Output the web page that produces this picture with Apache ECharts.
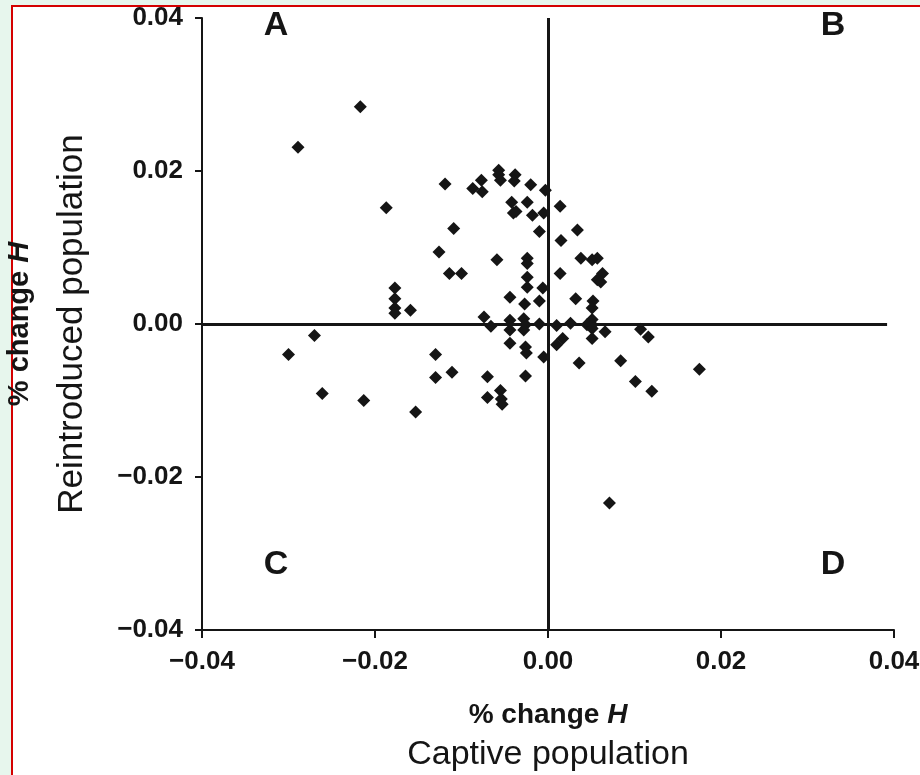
<!DOCTYPE html>
<html>
<head>
<meta charset="utf-8">
<title>% change H</title>
<script src="https://cdn.jsdelivr.net/npm/echarts@6/dist/echarts.min.js"></script>
<style>
  html, body { margin: 0; padding: 0; background: #e7f6ed; }
  #panel {
    position: absolute; left: 11px; top: 5px; width: 909px; height: 770px;
    background: #fff; border-left: 2px solid #d40000; border-top: 2px solid #d40000;
  }
  #chart { position: absolute; left: 0; top: 0; width: 920px; height: 775px; }
</style>
</head>
<body>
<div id="panel"></div>
<div id="chart"></div>
<script>
// % change H, captive (x) vs reintroduced (y)
var xValues = [
  -0.0289, -0.0217, -0.0187, -0.0119, -0.0087, -0.0077, -0.0076, -0.0057, -0.0057, -0.0055,
  -0.0038, -0.0039, -0.0020, -0.0003, -0.0042, -0.0024, -0.0040, -0.0037, -0.0018, -0.0005,
  0.0014, -0.0010, 0.0034, 0.0015, -0.0109, -0.0126, -0.0059, -0.0024, -0.0024, 0.0038,
  0.0051, 0.0057, -0.0114, -0.0100, 0.0014, 0.0063, 0.0057, 0.0061, -0.0024, -0.0024,
  -0.0006, -0.0177, -0.0177, -0.0177, -0.0177, -0.0159, -0.0044, -0.0027, -0.0010, 0.0032,
  0.0052, 0.0051, 0.0051, -0.0074, -0.0066, -0.0044, -0.0044, -0.0028, -0.0026, -0.0028,
  -0.0010, 0.0010, 0.0026, 0.0045, 0.0051, 0.0051, 0.0066, 0.0107, 0.0116, -0.0044,
  -0.0026, -0.0025, -0.0005, 0.0017, 0.0010, 0.0051, 0.0036, 0.0084, 0.0101, 0.0120,
  0.0175, 0.0071, -0.0270, -0.0300, -0.0130, -0.0130, -0.0111, -0.0070, -0.0026, -0.0261,
  -0.0213, -0.0153, -0.0070, -0.0055, -0.0054, -0.0053
];
var yValues = [
  0.0231, 0.0284, 0.0152, 0.0183, 0.0177, 0.0188, 0.0173, 0.0201, 0.0195, 0.0188,
  0.0195, 0.0187, 0.0182, 0.0175, 0.0159, 0.0159, 0.0145, 0.0147, 0.0142, 0.0145,
  0.0154, 0.0121, 0.0123, 0.0109, 0.0125, 0.0094, 0.0084, 0.0086, 0.0079, 0.0086,
  0.0084, 0.0086, 0.0066, 0.0066, 0.0066, 0.0066, 0.0058, 0.0055, 0.0061, 0.0048,
  0.0047, 0.0047, 0.0033, 0.0021, 0.0014, 0.0018, 0.0035, 0.0026, 0.0030, 0.0033,
  0.0030, 0.0021, 0.0006, 0.0009, -0.0003, 0.0005, -0.0008, 0.0007, -0.0001, -0.0008,
  0.0000, -0.0002, 0.0001, -0.0001, -0.0001, -0.0006, -0.0010, -0.0007, -0.0017, -0.0025,
  -0.0030, -0.0038, -0.0043, -0.0019, -0.0027, -0.0019, -0.0051, -0.0048, -0.0075, -0.0088,
  -0.0059, -0.0234, -0.0015, -0.0040, -0.0040, -0.0070, -0.0063, -0.0069, -0.0068, -0.0091,
  -0.0100, -0.0115, -0.0096, -0.0087, -0.0098, -0.0105
];
var tickMin = -0.04, tickMax = 0.04, tickStep = 0.02;
var quadrants = ['A', 'B', 'C', 'D'];

var points = xValues.map(function (x, i) { return [x, yValues[i]]; });

function fmt(v) {
    return (v < 0 ? '\u2212' : '') + Math.abs(v).toFixed(2);
}

var ink = '#151515';
var font = '"Liberation Sans", Arial, Helvetica, sans-serif';
var tickLabel = { color: ink, fontFamily: font, fontWeight: 'bold', fontSize: 26, formatter: fmt };

function letter(t, x, y) {
    return {
        type: 'text', x: x, y: y,
        style: { text: t, fill: ink, fontFamily: font, fontWeight: 'bold', fontSize: 34, align: 'center', verticalAlign: 'middle' }
    };
}

var chart = echarts.init(document.getElementById('chart'));
chart.setOption({
    backgroundColor: 'transparent',
    animation: false,
    grid: { left: 202, right: 26, top: 18, bottom: 145, outerBoundsMode: 'none', containLabel: false },
    xAxis: {
        type: 'value', min: tickMin, max: tickMax, interval: tickStep,
        splitLine: { show: false },
        axisLine: { onZero: false, lineStyle: { color: ink, width: 2 } },
        axisTick: { length: 8, lineStyle: { color: ink, width: 2 } },
        axisLabel: Object.assign({ margin: 19, showMaxLabel: true, showMinLabel: true }, tickLabel),
        name: '{b|% change }{i|H}\n{r|Captive population}',
        nameLocation: 'middle', nameGap: 68,
        nameTextStyle: {
            rich: {
                b: { fontFamily: font, fontWeight: 'bold', fontSize: 28, color: ink, lineHeight: 34 },
                i: { fontFamily: font, fontWeight: 'bold', fontStyle: 'italic', fontSize: 28, color: ink, lineHeight: 34 },
                r: { fontFamily: font, fontSize: 34, color: ink, lineHeight: 46 }
            }
        }
    },
    yAxis: {
        type: 'value', min: tickMin, max: tickMax, interval: tickStep,
        splitLine: { show: false },
        axisLine: { onZero: false, lineStyle: { color: ink, width: 2 } },
        axisTick: { length: 7, lineStyle: { color: ink, width: 2 } },
        axisLabel: Object.assign({ margin: 19, showMaxLabel: true, showMinLabel: true }, tickLabel),
        name: '{b|% change }{i|H}\n{r|Reintroduced population}',
        nameLocation: 'middle', nameGap: 102, nameRotate: 90,
        nameTextStyle: {
            rich: {
                b: { fontFamily: font, fontWeight: 'bold', fontSize: 29, color: ink, lineHeight: 48 },
                i: { fontFamily: font, fontWeight: 'bold', fontStyle: 'italic', fontSize: 29, color: ink, lineHeight: 48 },
                r: { fontFamily: font, fontSize: 35, color: ink, lineHeight: 56 }
            }
        }
    },
    graphic: [
        letter(quadrants[0], 276, 26),
        letter(quadrants[1], 833, 26),
        letter(quadrants[2], 276, 565),
        letter(quadrants[3], 833, 565)
    ],
    series: [{
        type: 'scatter',
        data: points,
        symbol: 'diamond',
        symbolSize: 13,
        itemStyle: { color: ink, opacity: 1 },
        emphasis: { disabled: true },
        markLine: {
            silent: true,
            symbol: ['none', 'none'],
            label: { show: false },
            lineStyle: { color: ink, width: 3, type: 'solid' },
            data: [
                [{ coord: [tickMin, 0] }, { coord: [0.0392, 0] }],
                [{ coord: [0, tickMin] }, { coord: [0, tickMax] }]
            ]
        }
    }]
});
</script>
</body>
</html>
